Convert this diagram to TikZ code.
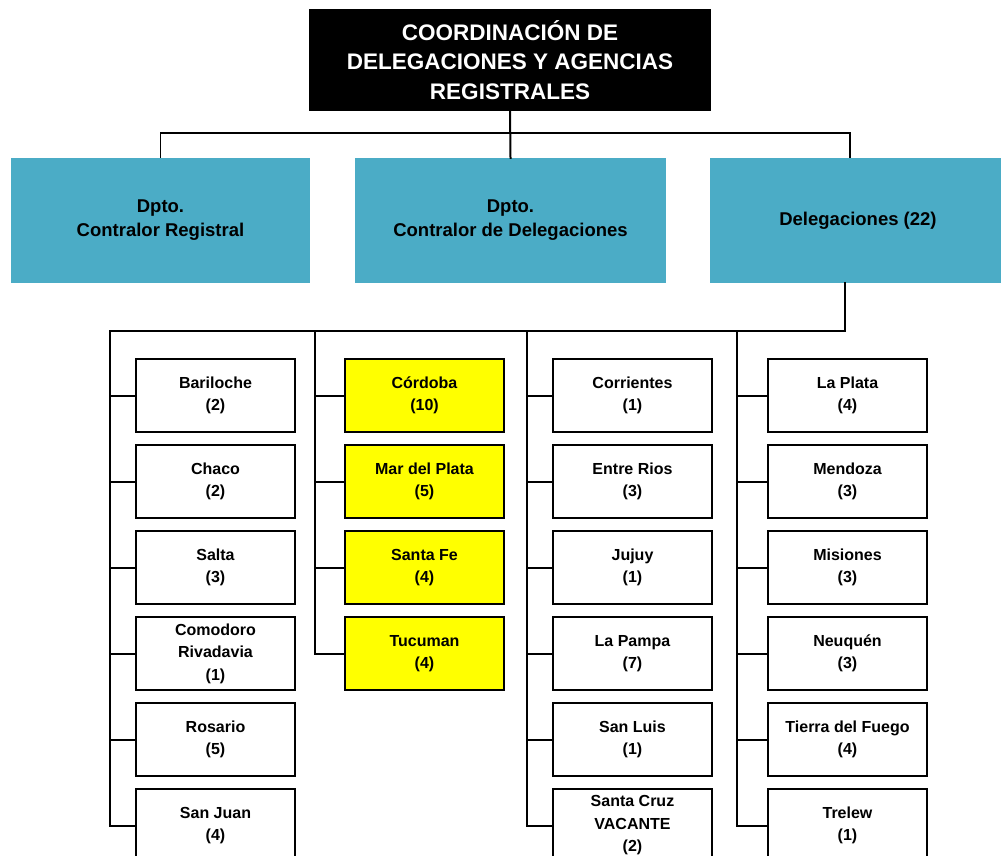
\documentclass[tikz,border=0pt]{standalone}
\usepackage{fontspec}
\setmainfont{Liberation Sans}
\definecolor{deptblue}{RGB}{75,172,198}
\definecolor{hlyellow}{RGB}{255,255,0}
\begin{document}
\begin{tikzpicture}[x=1pt,y=-1pt,
  head/.style={fill=black, text=white, font=\bfseries\fontsize{22.5}{29.5}\selectfont, align=center, minimum width=402pt, minimum height=102pt, inner sep=0},
  dept/.style={fill=deptblue, text=black, font=\bfseries\fontsize{18.5}{24}\selectfont, align=center, minimum height=125pt, inner sep=0},
  delbox/.style={draw=black, line width=2pt, fill=white, font=\bfseries\fontsize{16}{22.5}\selectfont, align=center, minimum width=159pt, minimum height=73pt, inner sep=0, anchor=north west},
  hlbox/.style={delbox, fill=hlyellow},
  conn/.style={line width=2pt, line cap=rect},
  tconn/.style={line width=1.5pt}
]
\useasboundingbox (0,0) rectangle (1001,855);
\begin{scope}
\clip (0,0) rectangle (1001,855);
% header
\node[head] (head) at (510,60) {COORDINACIÓN DE\\DELEGACIONES Y AGENCIAS\\REGISTRALES};
% departments
\node[dept, minimum width=299pt] (d1) at (160.5,220.5) {Dpto.\\Contralor Registral};
\node[dept, minimum width=311pt] (d2) at (510.5,220.5) {Dpto.\\Contralor de Delegaciones};
\node[dept, minimum width=296pt] (d3) at (858,220.5) {Delegaciones (22)};
\coordinate (bus) at (510,133);
\coordinate (r3) at (850,158);
\draw[conn] (head.south) -- (d2.north);
\draw[tconn] (d1.north) -- (d1.north|-bus) -- (r3|-bus) -- (r3);
% delegation bus
\coordinate (dtop) at (845,283);
\coordinate (dbus) at (845,331);
\coordinate (t1) at (110,331);
\coordinate (t2) at (315,331);
\coordinate (t3) at (527,331);
\coordinate (t4) at (737,331);
\draw[conn] (dtop) -- (dbus) -- (t1);
% column 1
\node[delbox] (a1) at (135,358) {Bariloche\\(2)};
\node[delbox] (a2) at (135,444) {Chaco\\(2)};
\node[delbox] (a3) at (135,530) {Salta\\(3)};
\node[delbox] (a4) at (135,616) {Comodoro\\Rivadavia\\(1)};
\node[delbox] (a5) at (135,702) {Rosario\\(5)};
\node[delbox] (a6) at (135,788) {San Juan\\(4)};
% column 2
\node[hlbox] (b1) at (344,358) {Córdoba\\(10)};
\node[hlbox] (b2) at (344,444) {Mar del Plata\\(5)};
\node[hlbox] (b3) at (344,530) {Santa Fe\\(4)};
\node[hlbox] (b4) at (344,616) {Tucuman\\(4)};
% column 3
\node[delbox] (c1) at (552,358) {Corrientes\\(1)};
\node[delbox] (c2) at (552,444) {Entre Rios\\(3)};
\node[delbox] (c3) at (552,530) {Jujuy\\(1)};
\node[delbox] (c4) at (552,616) {La Pampa\\(7)};
\node[delbox] (c5) at (552,702) {San Luis\\(1)};
\node[delbox] (c6) at (552,788) {Santa Cruz\\VACANTE\\(2)};
% column 4
\node[delbox] (e1) at (767,358) {La Plata\\(4)};
\node[delbox] (e2) at (767,444) {Mendoza\\(3)};
\node[delbox] (e3) at (767,530) {Misiones\\(3)};
\node[delbox] (e4) at (767,616) {Neuquén\\(3)};
\node[delbox] (e5) at (767,702) {Tierra del Fuego\\(4)};
\node[delbox] (e6) at (767,788) {Trelew\\(1)};
% trunks
\draw[conn] (t1) |- (a6.west);
\foreach \n in {a1,a2,a3,a4,a5} \draw[conn] (\n.west) -- (\n.west -| t1);
\draw[conn] (t2) |- (b4.west);
\foreach \n in {b1,b2,b3} \draw[conn] (\n.west) -- (\n.west -| t2);
\draw[conn] (t3) |- (c6.west);
\foreach \n in {c1,c2,c3,c4,c5} \draw[conn] (\n.west) -- (\n.west -| t3);
\draw[conn] (t4) |- (e6.west);
\foreach \n in {e1,e2,e3,e4,e5} \draw[conn] (\n.west) -- (\n.west -| t4);
\end{scope}
\end{tikzpicture}
\end{document}
